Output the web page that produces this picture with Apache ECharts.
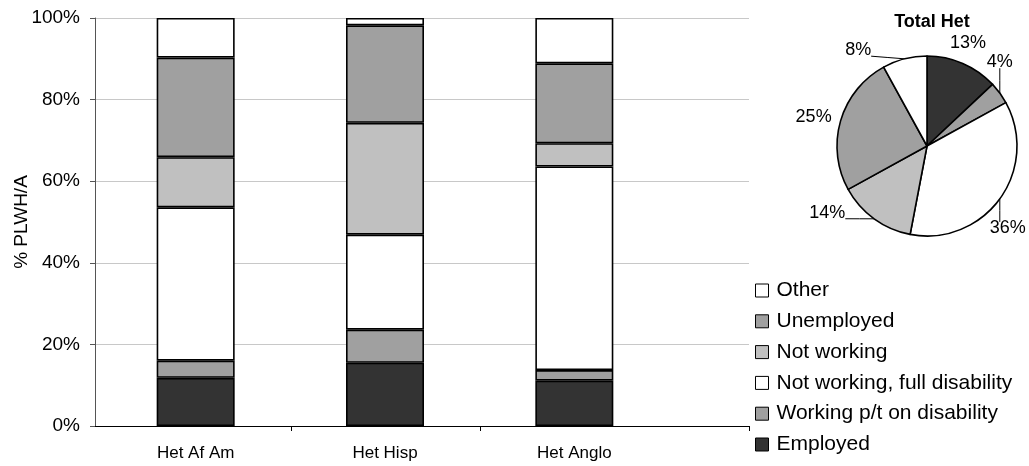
<!DOCTYPE html>
<html><head><meta charset="utf-8">
<script src="https://cdn.jsdelivr.net/npm/echarts@6/dist/echarts.min.js"></script>
<style>html,body{margin:0;padding:0;background:#fff}#c{width:1029px;height:466px}</style>
</head><body><div id="c"></div>
<script>
// ---- data ----
const categories = ['Het Af Am', 'Het Hisp', 'Het Anglo'];
const seriesNames = ['Employed', 'Working p/t on disability', 'Not working, full disability', 'Not working', 'Unemployed', 'Other'];
const employed       = [11.8, 15.5, 11.1];
const workingPT      = [4.2, 8.1, 2.6];
const notWorkingFull = [37.6, 23.3, 49.9];
const notWorking     = [12.3, 27.4, 5.7];
const unemployed     = [24.4, 23.9, 19.6];
const other          = [9.7, 1.8, 11.1];
const legendOrder = ['Other', 'Unemployed', 'Not working', 'Not working, full disability', 'Working p/t on disability', 'Employed'];
const pieTitle = 'Total Het';
const pieValues = [13, 4, 36, 14, 25, 8]; // same order as seriesNames
const yAxisName = '% PLWH/A';

// ---- styles ----
const colors = ['#333333', '#a0a0a0', '#ffffff', '#c0c0c0', '#a0a0a0', '#ffffff'];
const FONT = 'Liberation Sans, Arial, sans-serif';
const PIE_C = [927, 146];
const PIE_R = 90;
// label placement around the pie (angle in degrees clockwise from 12 o'clock, distance from centre)
const pieLabelAngle = [21.7, 41, 135.4, 236.2, 284.3, 324.3];
const pieLabelDist  = [111, 111, 115, 120, 117, 118];
const pieShowLine   = [false, true, true, true, false, true];

const barValues = [employed, workingPT, notWorkingFull, notWorking, unemployed, other];
const chart = echarts.init(document.getElementById('c'), null, {renderer: 'canvas'});

const barSeries = seriesNames.map((name, i) => ({
  name, type: 'bar', stack: 'total', xAxisIndex: 1, yAxisIndex: 1,
  barWidth: 78, data: barValues[i],
  itemStyle: {color: colors[i], borderColor: '#000', borderWidth: 1.6},
  emphasis: {disabled: true}
}));

function pieLabelLayout(p) {
  const i = p.dataIndex;
  const a = pieLabelAngle[i] * Math.PI / 180;
  const lx = PIE_C[0] + pieLabelDist[i] * Math.sin(a);
  const ly = PIE_C[1] - pieLabelDist[i] * Math.cos(a);
  const res = {x: lx, y: ly, align: 'center', verticalAlign: 'middle'};
  if (pieShowLine[i] && p.labelLinePoints) {
    const e = p.labelLinePoints[0];
    const w = p.labelRect.width, h = p.labelRect.height;
    const nx = Math.min(Math.max(e[0], lx - w / 2), lx + w / 2);
    const ny = Math.min(Math.max(e[1], ly - h / 2 + 3), ly + h / 2 - 3);
    res.labelLinePoints = [[e[0], e[1]], [(e[0] + nx) / 2, (e[1] + ny) / 2], [nx, ny]];
  }
  return res;
}

chart.setOption({
  animation: false,
  textStyle: {fontFamily: FONT, color: '#000'},
  title: {
    text: pieTitle, left: 927, top: 8, textAlign: 'center',
    textStyle: {fontFamily: FONT, fontSize: 18, fontWeight: 'bold', color: '#000'}
  },
  grid: [
    {left: 95, right: 280, top: 18, bottom: 40, outerBoundsMode: 'none', containLabel: false},
    {left: 101, right: 360, top: 18, bottom: 40, outerBoundsMode: 'none', containLabel: false}
  ],
  xAxis: [
    {type: 'value', gridIndex: 0, min: 0, max: 654,
     axisLine: {show: true, onZero: false, lineStyle: {color: '#000', width: 1}},
     axisTick: {show: true, length: 5, customValues: [196, 385, 654], lineStyle: {color: '#000'}},
     axisLabel: {show: false}, splitLine: {show: false}},
    {type: 'category', gridIndex: 1, data: categories,
     axisLine: {show: false}, axisTick: {show: false},
     axisLabel: {margin: 19, fontSize: 17, color: '#000', fontFamily: FONT}}
  ],
  yAxis: [
    {type: 'value', gridIndex: 0, min: 0, max: 100, interval: 20,
     name: yAxisName, nameLocation: 'middle', nameGap: 64, nameRotate: 90, nameMoveOverlap: false,
     nameTextStyle: {fontSize: 19, color: '#000', fontFamily: FONT},
     axisLine: {show: true, lineStyle: {color: '#555', width: 1}},
     axisTick: {show: true, length: 5, lineStyle: {color: '#555'}},
     axisLabel: {formatter: '{value}%', fontSize: 19, margin: 15, color: '#000', fontFamily: FONT},
     splitLine: {show: true, lineStyle: {color: '#c8c8c8', width: 1}}},
    {type: 'value', gridIndex: 1, min: 0, max: 100, show: false, splitLine: {show: false}}
  ],
  legend: {
    orient: 'vertical', left: 755, top: 280, padding: 0,
    data: legendOrder, icon: 'rect', itemWidth: 13, itemHeight: 13, itemGap: 9.8,
    itemStyle: {borderColor: '#000', borderWidth: 1},
    textStyle: {fontSize: 21, color: '#000', fontFamily: FONT, lineHeight: 21, padding: [0, 0, 0, 3]},
    selectedMode: false
  },
  series: barSeries.concat([{
    type: 'pie', name: pieTitle, left: 0, top: 0, width: 1400, height: 466,
    center: PIE_C, radius: PIE_R,
    startAngle: 90, clockwise: true, emphasis: {disabled: true},
    itemStyle: {borderColor: '#000', borderWidth: 1.6},
    label: {show: true, position: 'outside', formatter: '{c}%', fontSize: 18, color: '#000', fontFamily: FONT},
    labelLine: {show: true, length: 8, length2: 6, lineStyle: {color: '#000', width: 1}},
    labelLayout: pieLabelLayout,
    data: seriesNames.map((name, i) => ({
      name, value: pieValues[i],
      itemStyle: {color: colors[i]},
      labelLine: {show: pieShowLine[i]}
    }))
  }])
});
</script></body></html>
